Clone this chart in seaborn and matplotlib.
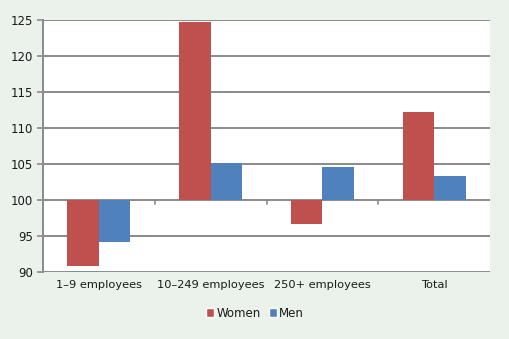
import matplotlib
matplotlib.use("Agg")
import matplotlib.pyplot as plt
from matplotlib.patches import Patch
import seaborn as sns
import pandas as pd

categories = ["1\u20139 employees", "10\u2013249 employees", "250+ employees", "Total"]
women = [90.9, 124.7, 96.7, 112.2]
men = [94.1, 105.1, 104.6, 103.3]
baseline = 100
yticks = [90, 95, 100, 105, 110, 115, 120, 125]

bg = "#ebf2ec"
grid_col = "#8a8a8a"
text_col = "#1a1a1a"
palette = {"Women": "#c0504d", "Men": "#4f81bd"}
series = ["Women", "Men"]

df = pd.DataFrame({
    "category": categories * 2,
    "sex": ["Women"] * len(categories) + ["Men"] * len(categories),
    "value": women + men,
})
df["delta"] = df["value"] - baseline

sns.set_theme(style="white")
plt.rcParams["font.family"] = ["DejaVu Sans"]

fig = plt.figure(figsize=(5.10, 3.39), dpi=100, facecolor=bg)
ax = fig.add_axes([43 / 510, 1 - 272 / 339, (490 - 43) / 510, (272 - 20) / 339])
ax.set_facecolor("white")

# bars grow up or down from the 100 baseline
sns.barplot(data=df, x="category", y="delta", hue="sex", order=categories,
            hue_order=series, palette=palette, width=0.565,
            bottom=baseline, saturation=1, linewidth=0, errorbar=None,
            legend=False, ax=ax)

ax.set_ylim(90, 125)
ax.set_xlim(-0.5, len(categories) - 0.5)
ax.set_yticks(yticks)
ax.set_yticklabels([str(t) for t in yticks])
for t in yticks:
    ax.axhline(t, color=grid_col, lw=1.4, zorder=0)
ax.set_axisbelow(True)

for s in ["top", "right", "bottom"]:
    ax.spines[s].set_visible(False)
ax.spines["left"].set_color(grid_col)
ax.spines["left"].set_linewidth(1.4)

ax.tick_params(axis="y", length=4, width=1.2, color=grid_col, labelsize=8.5,
               labelcolor=text_col, pad=3, left=True)
ax.tick_params(axis="x", length=0, labelsize=8.2, labelcolor=text_col, pad=6)
ax.set_xlabel("")
ax.set_ylabel("")

# category separator ticks on the 100 axis line
for b in [0.5, 1.5, 2.5]:
    ax.plot([b, b], [baseline, baseline - 0.5], color=grid_col, lw=1.2,
            clip_on=False, zorder=1)

handles = [Patch(facecolor=palette[s], label=s) for s in series]
leg = ax.legend(handles=handles, loc="upper center", bbox_to_anchor=(0.474, -0.095),
                ncol=2, frameon=False, fontsize=8.5, handlelength=0.7,
                handleheight=0.7, handletextpad=0.2, columnspacing=0.7)
for txt in leg.get_texts():
    txt.set_color(text_col)

fig.savefig("out.png", dpi=100, facecolor=bg)
